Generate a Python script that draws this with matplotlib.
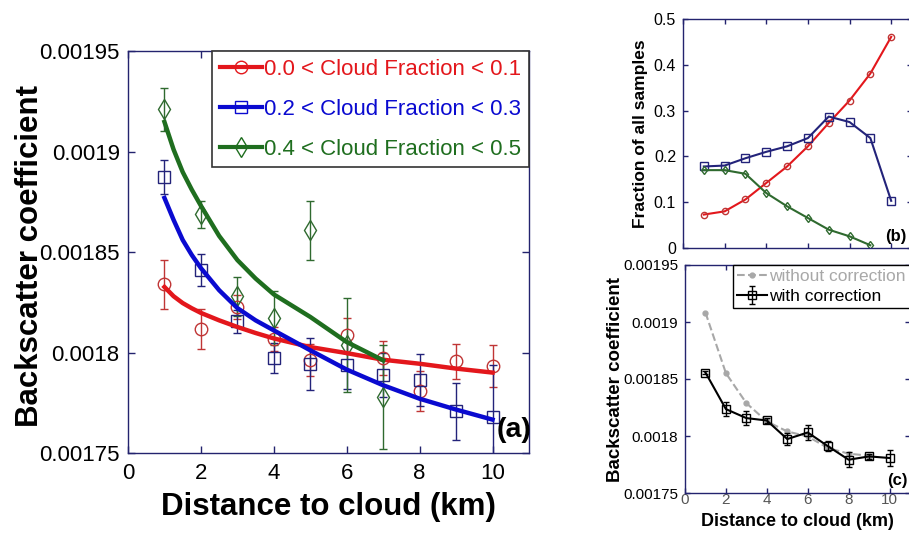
import matplotlib.pyplot as plt
from matplotlib.lines import Line2D
from matplotlib.ticker import FuncFormatter

plt.rcParams['font.family'] = ['Liberation Sans', 'DejaVu Sans']

# --- (a) backscatter vs distance, by cloud fraction ---
dist = [1, 2, 3, 4, 5, 6, 7, 8, 9, 10]
cf01_mean = [0.001834, 0.0018115, 0.0018226, 0.0018067, 0.0017963, 0.0018087, 0.0017973, 0.0017807, 0.0017956, 0.0017933]
cf01_err = [0.0000122, 0.00001, 0.000006, 0.000006, 0.000008, 0.0000087, 0.0000083, 0.00001, 0.0000087, 0.0000105]
cf23_mean = [0.0018873, 0.0018412, 0.0018155, 0.0017973, 0.0017943, 0.0017938, 0.0017888, 0.0017862, 0.0017707, 0.0017679]
cf23_err = [0.0000086, 0.000008, 0.0000058, 0.0000075, 0.0000129, 0.000012, 0.000011, 0.0000129, 0.000014, 0.0000258]
cf45_dist = [1, 2, 3, 4, 5, 6, 7]
cf45_mean = [0.001921, 0.0018687, 0.0018281, 0.0018172, 0.0018608, 0.0018037, 0.0017779]
cf45_err = [0.0000108, 0.0000066, 0.0000097, 0.0000133, 0.0000148, 0.0000236, 0.0000259]

# fitted curves
fit_x = [1, 1.25, 1.5, 1.75, 2, 2.5, 3, 3.5, 4, 5, 6, 7, 8, 9, 10]
fit_cf01 = [0.0018326, 0.001828, 0.0018246, 0.001822, 0.0018197, 0.001816, 0.0018127, 0.0018097, 0.001807, 0.0018027, 0.0017997, 0.0017964, 0.0017944, 0.001792, 0.00179]
fit_cf23 = [0.0018769, 0.001866, 0.001856, 0.0018485, 0.001842, 0.001831, 0.0018221, 0.001816, 0.001811, 0.0018011, 0.0017915, 0.0017837, 0.001777, 0.0017716, 0.0017666]
fit_cf45 = [0.0019147, 0.001901, 0.0018898, 0.001881, 0.001873, 0.001858, 0.001846, 0.0018368, 0.0018289, 0.0018177, 0.0018052, 0.0017961]

labels_a = ['0.0 < Cloud Fraction < 0.1', '0.2 < Cloud Fraction < 0.3', '0.4 < Cloud Fraction < 0.5']

# --- (b) fraction of samples ---
frac_cf01 = [0.073, 0.08, 0.106, 0.142, 0.178, 0.222, 0.273, 0.322, 0.381, 0.461]
frac_cf23 = [0.178, 0.18, 0.196, 0.21, 0.222, 0.24, 0.287, 0.275, 0.24, 0.103]
frac_cf45_dist = [1, 2, 3, 4, 5, 6, 7, 8, 9]
frac_cf45 = [0.17, 0.17, 0.162, 0.12, 0.091, 0.0655, 0.04, 0.0255, 0.006]

# --- (c) with / without correction ---
nocorr_dist = [1, 2, 3, 4, 5, 6, 7, 8, 9]
nocorr = [0.0019083, 0.0018551, 0.0018288, 0.0018128, 0.001804, 0.0017996, 0.0017894, 0.0017845, 0.0017827]
corr = [0.0018557, 0.0018236, 0.0018157, 0.0018136, 0.0017973, 0.0018031, 0.0017909, 0.0017792, 0.0017821, 0.0017807]
corr_err = [0.0000015, 0.0000064, 0.0000058, 0.0000023, 0.0000053, 0.0000064, 0.0000044, 0.0000064, 0.0000023, 0.0000073]
labels_c = ['without correction', 'with correction']

# colours
NAVY = '#23236e'
RED, BLUE, GREEN = '#e3171c', '#0a0ad0', '#1f6e1f'
RED_M, BLUE_M, GREEN_M = '#c03535', '#23237a', '#2f6a2f'
GRAY = '#a8a8a8'

fmt_g = FuncFormatter(lambda v, p: f'{v:g}')


def style_axes(ax, size, length):
    for s in ax.spines.values():
        s.set_color(NAVY)
        s.set_linewidth(1.0)
    ax.tick_params(direction='in', top=True, right=True, length=length,
                   width=1, color=NAVY, labelsize=size)


fig = plt.figure(figsize=(9.09, 5.35), dpi=100)

# ---------- panel (a) ----------
ax = fig.add_axes([128 / 909, 82 / 535, 401 / 909, 402 / 535])
ax.plot(fit_x, fit_cf01, color=RED, lw=3.2, zorder=3)
ax.plot(fit_x, fit_cf23, color=BLUE, lw=3.2, zorder=3)
ax.plot(fit_x[:len(fit_cf45)], fit_cf45, color=GREEN, lw=3.2, zorder=3)
ax.errorbar(dist, cf01_mean, yerr=cf01_err, fmt='o', ms=9, mfc='none', mec=RED_M,
            ecolor=RED_M, elinewidth=1, capsize=3, mew=1, zorder=2)
ax.errorbar(dist, cf23_mean, yerr=cf23_err, fmt='s', ms=8.5, mfc='none', mec=BLUE_M,
            ecolor=BLUE_M, elinewidth=1, capsize=3, mew=1, zorder=2)
ax.errorbar(cf45_dist, cf45_mean, yerr=cf45_err, fmt='d', ms=10, mfc='none', mec=GREEN_M,
            ecolor=GREEN_M, elinewidth=1, capsize=3, mew=1, zorder=2)
ax.set_xlim(0, 11)
ax.set_ylim(0.00175, 0.00195)
ax.set_xticks([0, 2, 4, 6, 8, 10])
ax.set_yticks([0.00175, 0.0018, 0.00185, 0.0019, 0.00195])
ax.yaxis.set_major_formatter(fmt_g)
style_axes(ax, 16, 5)
ax.tick_params(axis='x', pad=7)
ax.tick_params(axis='y', pad=6)
ax.set_xlabel('Distance to cloud (km)', fontsize=22.5, fontweight='bold', labelpad=6)
ax.set_ylabel('Backscatter coefficient', fontsize=22.5, fontweight='bold')
ax.yaxis.set_label_coords(-0.207, 0.49)
ax.text(0.92, 0.057, '(a)', transform=ax.transAxes, fontsize=20.5, fontweight='bold',
        ha='left', va='center')

handles = [Line2D([], [], color=RED, lw=3, marker='o', ms=9, mfc='none', mec=RED),
           Line2D([], [], color=BLUE, lw=3, marker='s', ms=8.5, mfc='none', mec=BLUE),
           Line2D([], [], color=GREEN, lw=3, marker='d', ms=10, mfc='none', mec=GREEN)]
leg = ax.legend(handles, labels_a, loc='upper right', borderaxespad=0, fontsize=16,
                handlelength=1.9, handletextpad=0.1, labelcolor='linecolor',
                fancybox=False, edgecolor='#333333', framealpha=1,
                borderpad=0.35, labelspacing=0.85)
leg.get_frame().set_linewidth(1.2)

# ---------- panel (b) ----------
bx = fig.add_axes([683 / 909, 287 / 535, 229 / 909, 229 / 535])
bx.plot(dist, frac_cf01, color=RED, lw=1.5, marker='o', ms=4.5, mfc='none', mec=RED_M)
bx.plot(dist, frac_cf23, color=BLUE_M, lw=1.5, marker='s', ms=5.5, mfc='none', mec=BLUE_M)
bx.plot(frac_cf45_dist, frac_cf45, color=GREEN_M, lw=1.5, marker='d', ms=4.5, mfc='none', mec=GREEN_M)
bx.set_xlim(0, 11)
bx.set_ylim(0, 0.5)
bx.set_xticks([0, 2, 4, 6, 8, 10])
bx.set_yticks([0, 0.1, 0.2, 0.3, 0.4, 0.5])
bx.yaxis.set_major_formatter(fmt_g)
style_axes(bx, 11.5, 3.5)
bx.tick_params(axis='x', labelbottom=False)
bx.tick_params(axis='y', pad=5)
bx.set_ylabel('Fraction of all samples', fontsize=12.5, fontweight='bold')
bx.yaxis.set_label_coords(-0.155, 0.5)
bx.text(0.882, 0.052, '(b)', transform=bx.transAxes, fontsize=12, fontweight='bold',
        ha='left', va='center')

# ---------- panel (c) ----------
cx = fig.add_axes([685 / 909, 42 / 535, 225 / 909, 228 / 535])
cx.plot(nocorr_dist, nocorr, color=GRAY, lw=1.5, ls='--', marker='o', ms=3.5,
        mfc=GRAY, mec=GRAY, label=labels_c[0])
cx.errorbar(dist, corr, yerr=corr_err, color='black', lw=1.5, marker='s', ms=6,
            mfc='none', mec='black', ecolor='black', elinewidth=1, capsize=2.5,
            label=labels_c[1])
cx.set_xlim(0, 11)
cx.set_ylim(0.00175, 0.00195)
cx.set_xticks([0, 2, 4, 6, 8, 10])
cx.set_yticks([0.00175, 0.0018, 0.00185, 0.0019, 0.00195])
cx.yaxis.set_major_formatter(fmt_g)
style_axes(cx, 11, 3.5)
cx.tick_params(axis='x', pad=0, labelcolor='#555555', labelsize=11)
cx.tick_params(axis='y', pad=5)
cx.set_xlabel('Distance to cloud (km)', fontsize=13, fontweight='bold', labelpad=4)
cx.set_ylabel('Backscatter coefficient', fontsize=13.5, fontweight='bold')
cx.yaxis.set_label_coords(-0.27, 0.5)
cx.text(0.9, 0.057, '(c)', transform=cx.transAxes, fontsize=12, fontweight='bold',
        ha='left', va='center')
leg_c = cx.legend(loc='upper right', borderaxespad=0, fontsize=12.5, handlelength=1.75,
                  handletextpad=0.1, labelcolor='linecolor', fancybox=False,
                  edgecolor='black', framealpha=1, borderpad=0.25, labelspacing=0.25)
leg_c.get_frame().set_linewidth(1.0)

fig.savefig('out.png', dpi=100)
